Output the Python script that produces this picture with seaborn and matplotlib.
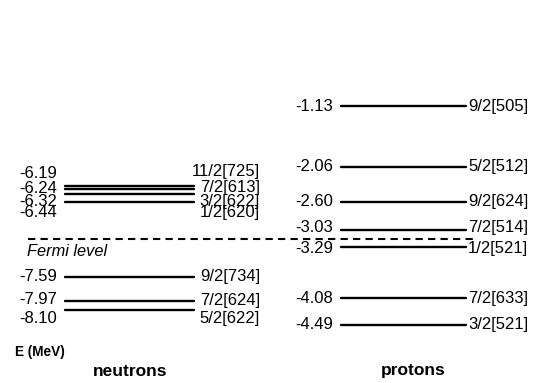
import matplotlib
matplotlib.use("Agg")
import matplotlib.pyplot as plt
import numpy as np
import pandas as pd
import seaborn as sns

# Single-particle levels (MeV) and Nilsson labels
neutron_energies = [-6.19, -6.24, -6.32, -6.44, -7.59, -7.97, -8.10]
neutron_orbitals = ["11/2[725]", "7/2[613]", "3/2[622]", "1/2[620]",
                    "9/2[734]", "7/2[624]", "5/2[622]"]
proton_energies = [-1.13, -2.06, -2.60, -3.03, -3.29, -4.08, -4.49]
proton_orbitals = ["9/2[505]", "5/2[512]", "9/2[624]", "7/2[514]",
                   "1/2[521]", "7/2[633]", "3/2[521]"]
fermi_neutron = -7.01
fermi_proton = -3.17

sns.set_theme(style="white")
plt.rcParams["font.family"] = ["Liberation Sans", "DejaVu Sans"]
plt.rcParams["text.color"] = "black"

W, H = 540, 383
fig = plt.figure(figsize=(W / 100, H / 100), dpi=100)
ax = fig.add_axes([0, 0, 1, 1])

# vertical scale: 65 px per MeV, Fermi levels aligned at row 239
PX_PER_MEV = 65.0
FERMI_ROW = 239
ax.set_xlim(0, W)
ax.set_ylim(-(H - FERMI_ROW) / PX_PER_MEV, FERMI_ROW / PX_PER_MEV)
ax.axis("off")

# column geometry (x extents of level bars)
n_x0, n_x1 = 65, 194
p_x0, p_x1 = 341, 466

rows = []
for i, e in enumerate(neutron_energies):
    y = e - fermi_neutron
    rows += [{"x": n_x0, "y": y, "level": f"n{i}"}, {"x": n_x1, "y": y, "level": f"n{i}"}]
for i, e in enumerate(proton_energies):
    y = e - fermi_proton
    rows += [{"x": p_x0, "y": y, "level": f"p{i}"}, {"x": p_x1, "y": y, "level": f"p{i}"}]
levels = pd.DataFrame(rows)

sns.lineplot(data=levels, x="x", y="y", units="level", estimator=None,
             color="black", linewidth=1.7, legend=False, ax=ax, sort=False)

# Fermi level across both columns
ax.hlines(0, 28, 477, colors="black", linewidth=1.5, linestyles=(0, (3.5, 2.5)))
ax.annotate("Fermi level", (27, 0), xytext=(0, -13), textcoords="offset pixels",
            ha="left", va="center", fontsize=11.8, style="italic", color="black")

FS = 12
# vertical label nudges (pixels, negative = up) for crowded levels
n_left_shift = [12, 0, -7, -11, 0, 2, -9]
n_right_shift = [14, 1, -7, -11, 0, 1, -9]
p_shift = [0, 0, 0, 2, -2, 0, 0]

for e, lab, dl, dr in zip(neutron_energies, neutron_orbitals, n_left_shift, n_right_shift):
    y = e - fermi_neutron
    ax.annotate(f"{e:.2f}", (57, y), xytext=(0, dl), textcoords="offset pixels",
                ha="right", va="center", fontsize=FS, color="black")
    ax.annotate(lab, (260, y), xytext=(0, dr), textcoords="offset pixels",
                ha="right", va="center", fontsize=FS, color="black")

for e, lab, d in zip(proton_energies, proton_orbitals, p_shift):
    y = e - fermi_proton
    ax.annotate(f"{e:.2f}", (333, y), xytext=(0, d), textcoords="offset pixels",
                ha="right", va="center", fontsize=FS, color="black")
    ax.annotate(lab, (468, y), xytext=(0, d), textcoords="offset pixels",
                ha="left", va="center", fontsize=FS, color="black")

fig.text(15 / W, 1 - 352 / H, "E (MeV)", ha="left", va="center",
         fontsize=9.8, fontweight="bold", color="black")
fig.text(130 / W, 1 - 371 / H, "neutrons", ha="center", va="center",
         fontsize=12.5, fontweight="bold", color="black")
fig.text(413 / W, 1 - 370 / H, "protons", ha="center", va="center",
         fontsize=12.5, fontweight="bold", color="black")

fig.savefig("out.png", dpi=100, facecolor="white")
